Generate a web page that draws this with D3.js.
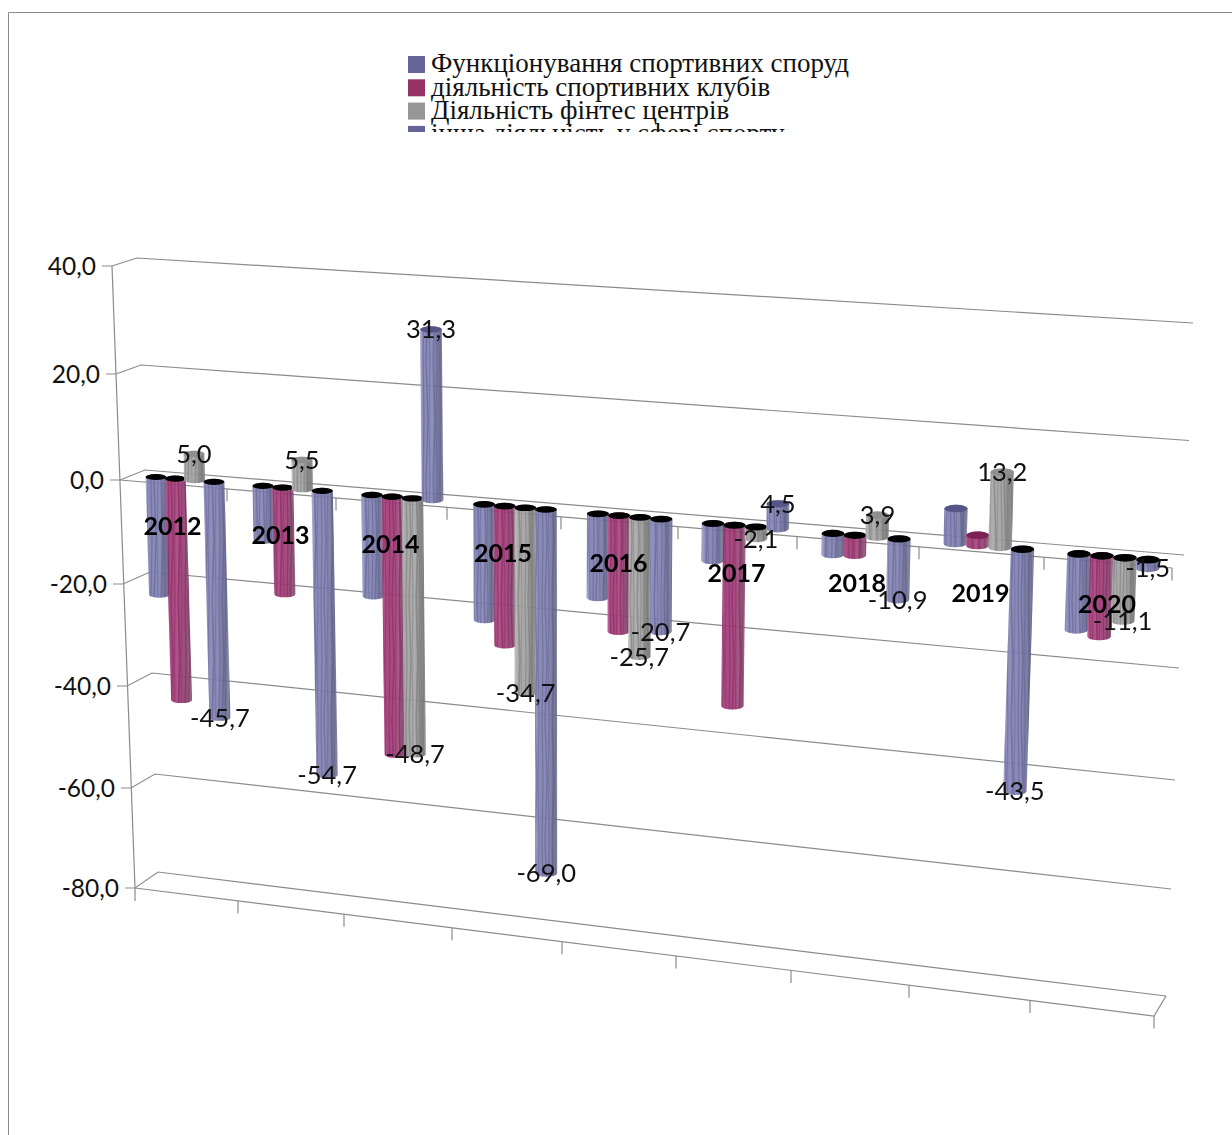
<!DOCTYPE html>
<html><head><meta charset="utf-8">
<script src="https://cdn.jsdelivr.net/npm/d3@7/dist/d3.min.js"></script>
<style>html,body{margin:0;padding:0;background:#fff;overflow:hidden}svg{display:block}</style>
</head><body><svg id="c" width="1232" height="1135"></svg>
<script>
const years=[2012,2013,2014,2015,2016,2017,2018,2019,2020];
const seriesNames=["Функціонування спортивних споруд","діяльність спортивних клубів","Діяльність фінтес центрів","інша діяльність у сфері спорту"];
const sportFacilities=[-22.7,-10.4,-19.1,-21.6,-15.5,-6.8,-3.8,6.2,-13.4];
const sportClubs=[-43.0,-20.3,-49.2,-26.0,-21.4,-33.2,-3.6,1.8,-14.2];
const fitnessCentres=[5.0,5.5,-48.7,-34.7,-25.7,-2.1,3.9,13.2,-11.1];
const otherSport=[-45.7,-54.7,31.3,-69.0,-20.7,4.5,-10.9,-43.5,-1.5];
const seriesValues=[sportFacilities,sportClubs,fitnessCentres,otherSport];
const seriesLabelled=[false,false,true,true];
const yTicks=[40,20,0,-20,-40,-60,-80];
const fmt=v=>d3.format(".1f")(v).replace(".",",").replace("−","-");

const svg=d3.select("#c");
const GRAY="#8b8b8b", FONT="Lato, Carlito, sans-serif", SERIF="'Liberation Serif', serif";
const palette=[
 {light:"#a3a4cd",base:"#8081b0",dark:"#66678c",cap:"#55558a"},
 {light:"#bd5f95",base:"#a23c78",dark:"#86466e",cap:"#7a2055"},
 {light:"#c4c4c4",base:"#a2a2a2",dark:"#7a7a7a",cap:"#8f8f8f"},
 {light:"#a3a4cd",base:"#8081b0",dark:"#66678c",cap:"#55558a"}];

// scales for the 3D box
const frontLeftX=d3.scaleLinear().domain(yTicks).range([112,116,120,123,127,131,135]);
const frontLeftY=d3.scaleLinear().domain(yTicks).range([266,374,480,584,686,788,888]);
const backLeftX=d3.scaleLinear().domain(yTicks).range([137,141,145,150,152,155,158]);
const backLeftY=d3.scaleLinear().domain(yTicks).range([258,365,470,572,673,774,872]);
const backRightX=d3.scaleLinear().domain(yTicks).range([1193,1189,1184,1179,1175,1171,1166]);
const backRightY=d3.scaleLinear().domain(yTicks).range([323,440.5,555,668,780,889,996]);

// category axis (tick index -> pixel)
const tickIdx=d3.range(years.length+1);
const zeroAxisX=d3.scaleLinear().domain(tickIdx).range([120,227,336,447,561,678,797,919,1044,1172]);
const zeroAxisY=d3.scaleLinear().domain([120,1172]).range([480,568]);
const floorX=d3.scaleLinear().domain(tickIdx).range([135,238,344,452,562,676,791,909,1030,1154]);
const floorY=d3.scaleLinear().domain([135,1154]).range([888,1016]);

// bar placement
const groupX=d3.scaleLinear().domain(d3.range(years.length)).range([156,263,372,484,598,713,833,955,1079]);
const seriesStep=d3.scaleLinear().domain([156,1079]).range([19.3,23]);
const barW=d3.scaleLinear().domain([156,1150]).range([20.8,23.8]);
const capRy=d3.scaleLinear().domain([156,1150]).range([3,3.9]);
const zeroY=d3.scaleLinear().domain([156,1148]).range([477,559.7]);
const unitPx=d3.scaleLinear().domain([146,1185]).range([5.23,5.75]);
const Q=0.00043, LEAN=0.00038, LEANX=560;
function proj(x0,v){const t=-v;return [x0+(LEANX-x0)*LEAN*t, zeroY(x0)+unitPx(x0)*t/(1+Q*t)];}

const defs=svg.append("defs");
defs.append("filter").attr("id","soft").attr("x","-10%").attr("y","-10%").attr("width","120%").attr("height","120%")
  .append("feGaussianBlur").attr("stdDeviation",0.55);
defs.append("clipPath").attr("id","legClip").append("rect").attr("x",390).attr("y",40).attr("width",480).attr("height",92);
palette.forEach((p,i)=>{
  const g=defs.append("linearGradient").attr("id","g"+i);
  [[0,p.light,1],[.14,p.base,1],[.55,p.base,1],[.82,p.dark,1],[1,p.dark,.85]].forEach(s=>
    g.append("stop").attr("offset",s[0]).attr("stop-color",s[1]).attr("stop-opacity",s[2]));
  const pat=defs.append("pattern").attr("id","t"+i).attr("patternUnits","userSpaceOnUse")
    .attr("width",17).attr("height",120);
  [[1,3,1.5],[5,4,.9],[8,10,1.7],[12,11,.9],[15,16,1.3]].forEach(s=>{
    pat.append("polyline").attr("points",`${s[0]},0 ${s[1]},60 ${s[0]},120`)
      .attr("fill","none").attr("stroke",i==2?"#6d6d6d":p.cap).attr("stroke-width",s[2]).attr("opacity",.7);
  });
  pat.append("line").attr("x1",7).attr("x2",7).attr("y1",0).attr("y2",120).attr("stroke","#fff").attr("stroke-width",.8).attr("opacity",.22);
});

// outer frame
svg.append("path").attr("d","M8.5,1135V12.5H1232").attr("fill","none").attr("stroke",GRAY).attr("stroke-width",1);

// legend
const rowY=d3.scaleLinear().domain([0,1]).range([56,79.3]);
const leg=svg.append("g").attr("clip-path","url(#legClip)");
seriesNames.forEach((n,i)=>{
  leg.append("rect").attr("x",408).attr("y",rowY(i)).attr("width",17).attr("height",17)
    .attr("fill",["#65659a","#963262","#969696","#65659a"][i]);
  leg.append("text").attr("x",431).attr("y",rowY(i)+16.3).attr("font-family",SERIF).attr("font-size",27)
    .attr("fill","#111").text(n);
});

// walls
const ln=d3.line();
const grid=svg.append("g").attr("fill","none").attr("stroke",GRAY).attr("stroke-width",1.2);
yTicks.forEach(v=>{
  grid.append("path").attr("d",ln([[frontLeftX(v)-10,frontLeftY(v)],[frontLeftX(v),frontLeftY(v)],[backLeftX(v),backLeftY(v)],[backRightX(v),backRightY(v)]]));
});
grid.append("path").attr("d",ln([[frontLeftX(40),frontLeftY(40)],[frontLeftX(-80),frontLeftY(-80)],[frontLeftX(-80),frontLeftY(-80)+13]]));
grid.append("path").attr("d",ln([[floorX(0),floorY(floorX(0))],[floorX(9),floorY(floorX(9))],[backRightX(-80),backRightY(-80)]]));
tickIdx.slice(1).forEach(i=>{const x=floorX(i),y=floorY(x);
  grid.append("path").attr("d",ln([[x,y],[x,y+12.5]]));});
grid.append("path").attr("d",ln([[zeroAxisX(0),zeroAxisY(zeroAxisX(0))],[zeroAxisX(9),zeroAxisY(zeroAxisX(9))]]));
tickIdx.slice(1).forEach(i=>{const x=zeroAxisX(i),y=zeroAxisY(x);
  grid.append("path").attr("d",ln([[x,y],[x,y+12.5]]));});

// value axis labels
const tg=svg.append("g").attr("font-family",FONT).attr("fill","#111").attr("font-size",24.5);
yTicks.forEach(v=>{
  tg.append("text").attr("x",frontLeftX(v)-16).attr("y",frontLeftY(v)).attr("dy",".35em").attr("text-anchor","end").text(fmt(v));
});

// bars
const barsG=svg.append("g").attr("filter","url(#soft)");
function drawBar(cat,s){
  const v=seriesValues[s][cat];
  const gx=groupX(cat), x0=gx+s*seriesStep(gx);
  const w=barW(x0), ry=capRy(x0), hw=w/2;
  const base=proj(x0,0), end=proj(x0,v);
  const top=v<0?base:end, bot=v<0?end:base;
  const d=`M${top[0]-hw},${top[1]}L${bot[0]-hw},${bot[1]}A${hw},${ry} 0 0 0 ${bot[0]+hw},${bot[1]}L${top[0]+hw},${top[1]}A${hw},${ry} 0 0 0 ${top[0]-hw},${top[1]}Z`;
  const g=barsG.append("g");
  g.append("path").attr("d",d).attr("fill",`url(#g${s})`).attr("opacity",.93);
  g.append("path").attr("d",d).attr("fill",`url(#t${s})`).attr("opacity",.6);
  g.append("ellipse").attr("cx",top[0]).attr("cy",top[1]).attr("rx",hw).attr("ry",ry)
    .attr("fill",v<0?"#000":palette[s].cap);
}
years.forEach((y,c)=>{
  d3.range(4).forEach(s=>drawBar(c,s));
});

// category labels
years.forEach((y,i)=>{
  const x=(zeroAxisX(i)+zeroAxisX(i+1))/2;
  svg.append("text").attr("x",x-1).attr("y",zeroAxisY(x)+41.5).attr("dy",".35em").attr("text-anchor","middle")
    .attr("font-family",FONT).attr("font-weight",700).attr("font-size",25).attr("fill","#000").text(y);
});

// data labels
seriesValues.forEach((vals,s)=>{
  if(!seriesLabelled[s])return;
  vals.forEach((v,c)=>{
    const gx=groupX(c), x0=gx+s*seriesStep(gx), e=proj(x0,v);
    svg.append("text").attr("x",e[0]).attr("y",e[1]).attr("dy",".35em").attr("text-anchor","middle")
      .attr("font-family",FONT).attr("font-size",25.5).attr("fill","#111").text(fmt(v));
  });
});
</script></body></html>
